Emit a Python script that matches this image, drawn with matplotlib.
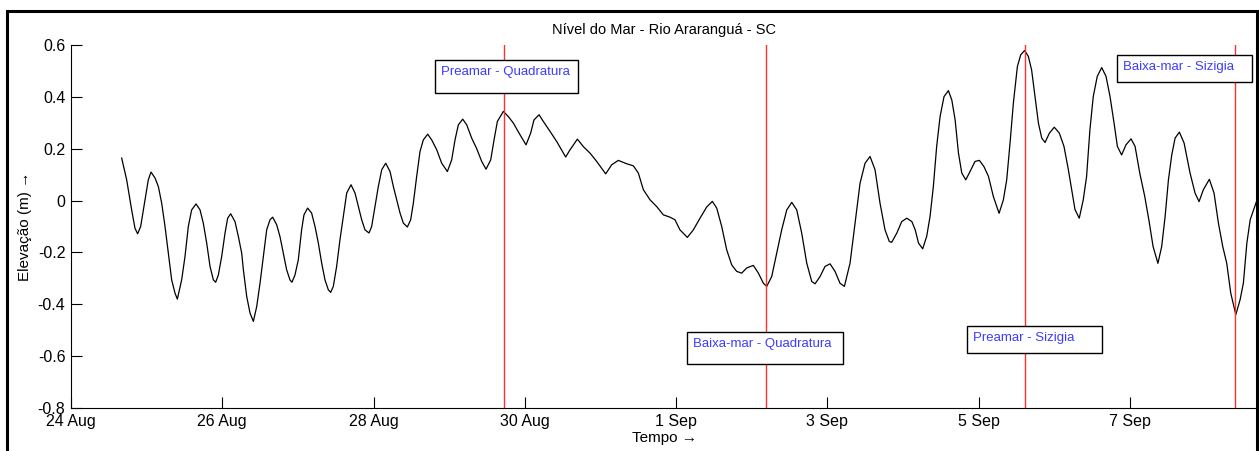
import matplotlib
matplotlib.use("Agg")
import matplotlib.pyplot as plt
from matplotlib.patches import Rectangle

plt.rcParams['font.family'] = ['Liberation Sans', 'DejaVu Sans']

# time in days since 24 Aug 00:00
t_days = [
    0.670, 0.736, 0.802, 0.846, 0.881, 0.921, 0.978, 1.022, 1.058, 1.111,
    1.155, 1.199, 1.243, 1.287, 1.331, 1.375, 1.406, 1.463, 1.507, 1.551,
    1.595, 1.653, 1.706, 1.749, 1.794, 1.838, 1.882, 1.913, 1.948, 1.992,
    2.036, 2.071, 2.111, 2.168, 2.213, 2.257, 2.279, 2.323, 2.367, 2.411,
    2.455, 2.499, 2.543, 2.587, 2.631, 2.666, 2.719, 2.763, 2.807, 2.851,
    2.895, 2.921, 2.961, 3.005, 3.049, 3.080, 3.128, 3.181, 3.226, 3.270,
    3.314, 3.358, 3.402, 3.433, 3.468, 3.512, 3.556, 3.601, 3.645, 3.702,
    3.755, 3.799, 3.843, 3.887, 3.940, 3.975, 4.019, 4.063, 4.108, 4.161,
    4.218, 4.262, 4.306, 4.350, 4.394, 4.447, 4.491, 4.526, 4.570, 4.614,
    4.658, 4.716, 4.769, 4.835, 4.901, 4.976, 5.033, 5.077, 5.121, 5.179,
    5.232, 5.297, 5.364, 5.430, 5.487, 5.549, 5.593, 5.637, 5.716, 5.782,
    5.848, 5.936, 6.016, 6.077, 6.121, 6.188, 6.245, 6.333, 6.421, 6.540,
    6.598, 6.695, 6.774, 6.862, 6.950, 7.069, 7.148, 7.236, 7.347, 7.435,
    7.501, 7.567, 7.655, 7.743, 7.831, 7.919, 7.985, 8.051, 8.149, 8.228,
    8.316, 8.404, 8.479, 8.537, 8.603, 8.669, 8.735, 8.801, 8.867, 8.933,
    9.021, 9.088, 9.154, 9.198, 9.264, 9.330, 9.396, 9.463, 9.529, 9.595,
    9.661, 9.727, 9.793, 9.837, 9.903, 9.969, 10.035, 10.101, 10.167, 10.225,
    10.300, 10.366, 10.432, 10.498, 10.564, 10.630, 10.696, 10.762, 10.819, 10.850,
    10.917, 10.983, 11.050, 11.117, 11.161, 11.205, 11.260, 11.313, 11.357, 11.401,
    11.445, 11.490, 11.542, 11.600, 11.645, 11.689, 11.733, 11.777, 11.830, 11.886,
    11.952, 12.010, 12.070, 12.130, 12.194, 12.270, 12.327, 12.371, 12.415, 12.459,
    12.512, 12.556, 12.608, 12.657, 12.700, 12.745, 12.790, 12.834, 12.878, 12.935,
    13.000, 13.067, 13.128, 13.186, 13.230, 13.274, 13.330, 13.383, 13.427, 13.471,
    13.515, 13.568, 13.627, 13.684, 13.737, 13.790, 13.834, 13.890, 13.948, 14.015,
    14.068, 14.130, 14.196, 14.254, 14.306, 14.370, 14.420, 14.465, 14.509, 14.553,
    14.597, 14.654, 14.716, 14.795, 14.861, 14.914, 14.971, 15.050, 15.112, 15.170,
    15.227, 15.280, 15.333, 15.400, 15.457, 15.500, 15.546, 15.590, 15.670]
elev_m = [
    0.164, 0.080, -0.036, -0.107, -0.128, -0.100, 0.003, 0.080, 0.110, 0.087,
    0.054, -0.010, -0.100, -0.203, -0.306, -0.357, -0.380, -0.306, -0.216, -0.100,
    -0.036, -0.013, -0.036, -0.087, -0.164, -0.254, -0.306, -0.315, -0.287, -0.216,
    -0.126, -0.068, -0.051, -0.081, -0.139, -0.203, -0.267, -0.370, -0.434, -0.466,
    -0.409, -0.319, -0.216, -0.113, -0.074, -0.064, -0.093, -0.139, -0.203, -0.267,
    -0.306, -0.315, -0.287, -0.229, -0.113, -0.055, -0.029, -0.048, -0.100, -0.164,
    -0.241, -0.306, -0.344, -0.354, -0.331, -0.254, -0.151, -0.061, 0.029, 0.061,
    0.029, -0.023, -0.074, -0.113, -0.125, -0.100, -0.023, 0.054, 0.119, 0.144,
    0.112, 0.054, 0.003, -0.048, -0.087, -0.102, -0.074, -0.010, 0.093, 0.189,
    0.234, 0.256, 0.234, 0.196, 0.144, 0.112, 0.157, 0.234, 0.292, 0.314,
    0.292, 0.241, 0.200, 0.151, 0.121, 0.157, 0.234, 0.305, 0.344, 0.324,
    0.299, 0.254, 0.215, 0.260, 0.311, 0.331, 0.305, 0.267, 0.228, 0.168,
    0.196, 0.237, 0.208, 0.183, 0.151, 0.103, 0.138, 0.155, 0.142, 0.134,
    0.106, 0.042, 0.003, -0.023, -0.055, -0.064, -0.074, -0.113, -0.142, -0.113,
    -0.068, -0.025, -0.003, -0.029, -0.100, -0.190, -0.248, -0.273, -0.280, -0.260,
    -0.250, -0.280, -0.319, -0.331, -0.293, -0.203, -0.113, -0.036, -0.007, -0.036,
    -0.126, -0.241, -0.312, -0.321, -0.293, -0.254, -0.244, -0.273, -0.319, -0.331,
    -0.241, -0.087, 0.067, 0.144, 0.170, 0.119, -0.010, -0.113, -0.158, -0.161,
    -0.126, -0.081, -0.068, -0.081, -0.113, -0.164, -0.186, -0.138, -0.062, 0.054,
    0.209, 0.324, 0.401, 0.424, 0.388, 0.311, 0.183, 0.106, 0.080, 0.112,
    0.151, 0.155, 0.131, 0.093, 0.016, -0.049, 0.003, 0.080, 0.222, 0.376,
    0.517, 0.562, 0.579, 0.556, 0.504, 0.401, 0.299, 0.241, 0.224, 0.260,
    0.283, 0.260, 0.209, 0.119, 0.042, -0.035, -0.068, 0.003, 0.093, 0.273,
    0.401, 0.479, 0.513, 0.479, 0.401, 0.299, 0.209, 0.176, 0.215, 0.238,
    0.209, 0.106, 0.016, -0.081, -0.177, -0.242, -0.177, -0.062, 0.080, 0.176,
    0.241, 0.264, 0.222, 0.106, 0.029, -0.004, 0.042, 0.082, 0.029, -0.087,
    -0.177, -0.242, -0.357, -0.440, -0.382, -0.318, -0.164, -0.074, -0.006]

tick_days = [0, 2, 4, 6, 8, 10, 12, 14]
tick_labels = ['24 Aug', '26 Aug', '28 Aug', '30 Aug', '1 Sep', '3 Sep', '5 Sep', '7 Sep']
y_ticks = [0.6, 0.4, 0.2, 0, -0.2, -0.4, -0.6, -0.8]
y_tick_labels = ['0.6', '0.4', '0.2', '0', '-0.2', '-0.4', '-0.6', '-0.8']

event_days = [5.72, 9.19, 12.61, 15.39]
event_labels = ['Preamar - Quadratura', 'Baixa-mar - Quadratura',
                'Preamar - Sizigia', 'Baixa-mar - Sizigia']

# annotation layout (data coordinates): box extents and text anchor
box_x0 = [4.812, 8.140, 11.852, 13.833]
box_x1 = [6.703, 10.210, 13.630, 15.610]
box_y0 = [0.416, -0.631, -0.587, 0.458]
box_y1 = [0.543, -0.505, -0.482, 0.562]
txt_x = [4.888, 8.219, 11.921, 13.912]
txt_y = [0.495, -0.552, -0.530, 0.517]

W, H = 1259, 451
fig = plt.figure(figsize=(W / 100, H / 100), dpi=100)
ax = fig.add_axes([71 / W, 1 - 408 / H, 1186 / W, (408 - 45) / H])

ax.plot(t_days, elev_m, color='black', lw=0.9)
for d in event_days:
    ax.axvline(d, color='#ff3030', lw=1)
for x0, x1, y0, y1, tx, ty, s in zip(box_x0, box_x1, box_y0, box_y1, txt_x, txt_y, event_labels):
    ax.add_patch(Rectangle((x0, y0), x1 - x0, y1 - y0, facecolor='white',
                           edgecolor='black', lw=1, zorder=3))
    ax.text(tx, ty, s, color='#3c3cff', fontsize=9.5, ha='left', va='center', zorder=4)

ax.set_xlim(0, 15.68)
ax.set_ylim(-0.8, 0.6)
ax.set_xticks(tick_days)
ax.set_xticklabels(tick_labels)
ax.set_yticks(y_ticks)
ax.set_yticklabels(y_tick_labels)
ax.tick_params(direction='in', length=8, width=0.8, labelsize=11.5, pad=4)
for side in ['top', 'right']:
    ax.spines[side].set_visible(False)
ax.spines['left'].set_linewidth(0.8)
ax.spines['bottom'].set_linewidth(0.8)

ax.set_title('Nível do Mar - Rio Araranguá - SC', fontsize=10.5, pad=8)
ax.set_xlabel('Tempo \u2192', fontsize=11, labelpad=2)
ax.set_ylabel('Elevação (m) \u2192', fontsize=11, labelpad=4)

fig.patches.append(Rectangle((7 / W, -0.2), 1250 / W, 1.2 - 11 / H, transform=fig.transFigure,
                             fill=False, edgecolor='black', lw=2.2, clip_on=False))

fig.savefig('out.png', dpi=100)
